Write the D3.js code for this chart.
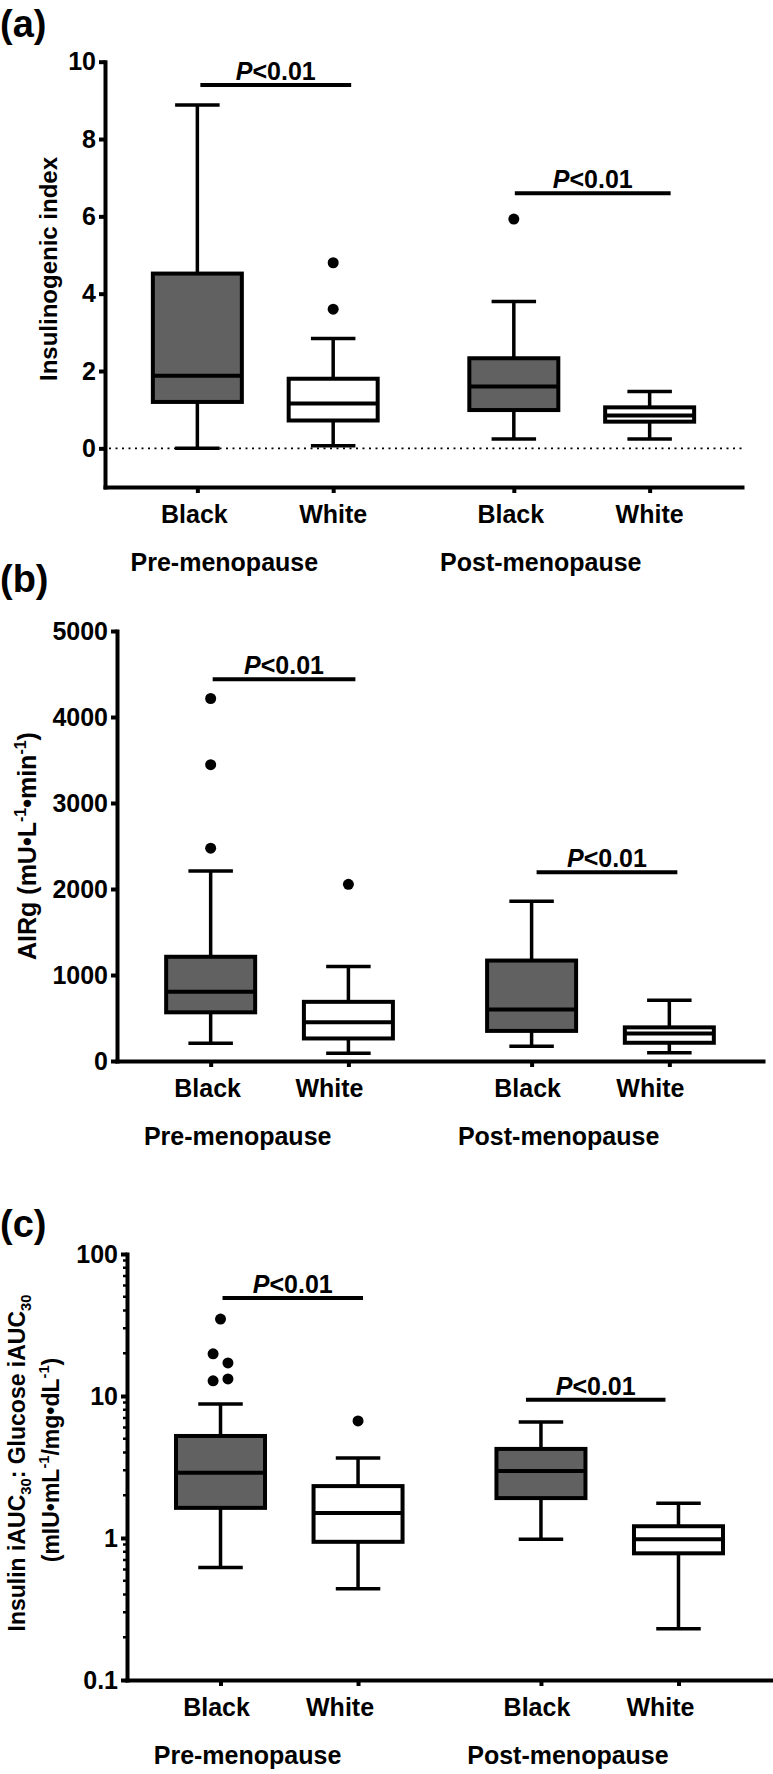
<!DOCTYPE html>
<html>
<head>
<meta charset="utf-8">
<script src="https://cdn.jsdelivr.net/npm/d3@7"></script>
<style>
body { margin: 0; background: #fff; }
svg text { font-family: "Liberation Sans", Arial, Helvetica, sans-serif; font-weight: bold; fill: #000; }
</style>
</head>
<body>
<svg width="773" height="1774"></svg>
<script>
const groups = ['Pre-menopause', 'Post-menopause'];
const categories = ['Black', 'White', 'Black', 'White'];
const fills = ['#616161', '#ffffff', '#616161', '#ffffff'];
const pLabel = '<0.01';

// each box: [min, q1, median, q3, max]
const insulinogenicBox = [
  [0.00, 1.20, 1.88, 4.52, 8.88],
  [0.07, 0.72, 1.16, 1.80, 2.84],
  [0.24, 0.99, 1.60, 2.33, 3.80],
  [0.24, 0.69, 0.85, 1.06, 1.47]
];
const insulinogenicOutliers = [[], [3.6, 4.8], [5.93], []];
const insulinogenicSig = [9.4, 6.6];
const insulinogenicTicks = [0, 2, 4, 6, 8, 10];

const airgBox = [
  [205, 566, 805, 1212, 2208],
  [90, 262, 452, 688, 1098],
  [172, 350, 600, 1168, 1858],
  [95, 212, 320, 391, 706]
];
const airgOutliers = [[2475, 3445, 4215], [2055], [], []];
const airgSig = [4440, 2195];
const airgTicks = [0, 1000, 2000, 3000, 4000, 5000];

const ratioBox = [
  [0.62, 1.63, 2.88, 5.23, 8.8],
  [0.44, 0.94, 1.50, 2.32, 3.66],
  [0.98, 1.91, 2.96, 4.24, 6.56],
  [0.23, 0.78, 0.98, 1.21, 1.76]
];
const ratioOutliers = [[34.8, 19.8, 17.1, 12.8, 13.2], [6.67], [], []];
const ratioSig = [49, 9.4];
const ratioTicks = [0.1, 1, 10, 100];

// category slots along x (gap between the two groups is wider)
const slots = [0, 1, 2.33, 3.33];

const svg = d3.select('svg');

const panels = [
  { tag: '(a)', tagY: 37, axisX: 105, xEnd: 742, yRange: [487, 61.7],
    y: d3.scaleLinear().domain([-1, 10]), ticks: insulinogenicTicks,
    box: insulinogenicBox, out: insulinogenicOutliers, sig: insulinogenicSig,
    sigDx: [[3, 18], [1, 21]], labelDx: [-3, 0, -3, 0], zeroLine: true },
  { tag: '(b)', tagY: 592, axisX: 117, xEnd: 763, yRange: [1061, 631],
    y: d3.scaleLinear().domain([0, 5000]), ticks: airgTicks,
    box: airgBox, out: airgOutliers, sig: airgSig,
    sigDx: [[2, 7], [5, 8]], labelDx: [-3, -19, -4, -19] },
  { tag: '(c)', tagY: 1237, axisX: 127, xEnd: 772, yRange: [1680, 1254],
    y: d3.scaleLog().domain([0.1, 100]), ticks: ratioTicks, log: true,
    box: ratioBox, out: ratioOutliers, sig: ratioSig,
    sigDx: [[2, 5], [-15, -13]], labelDx: [-4, -18, -4, -18] }
];

function dodge(vals, y, r) {
  const res = [];
  let cluster = [];
  const flush = () => {
    cluster.forEach((v, i) => res.push({ v, dx: (i - (cluster.length - 1) / 2) * r * 2.7 }));
    cluster = [];
  };
  vals.forEach(v => {
    if (cluster.length && Math.abs(y(v) - y(cluster[cluster.length - 1])) >= 2 * r + 2) flush();
    cluster.push(v);
  });
  flush();
  return res;
}

function drawPanel(p) {
  const g = svg.append('g');
  const y = p.y.range(p.yRange);
  const x = d3.scaleLinear().domain([-0.68, 4.01]).range([p.axisX, p.xEnd]);
  const bw = 89;
  const y0 = p.yRange[0];

  g.append('text').attr('x', 0).attr('y', p.tagY).attr('font-size', 38).text(p.tag);

  if (p.zeroLine) {
    g.append('line')
      .attr('x1', p.axisX + 4).attr('x2', p.xEnd).attr('y1', y(0)).attr('y2', y(0))
      .attr('stroke', '#000').attr('stroke-width', 1.8).attr('stroke-dasharray', '2,4.5');
  }

  const boxes = g.selectAll('.box').data(p.box).join('g').attr('class', 'box');
  boxes.each(function(d, i) {
    const b = d3.select(this);
    const cx = x(slots[i]);
    [[d[3], d[4]], [d[1], d[0]]].forEach(([a, e]) => {
      b.append('line').attr('x1', cx).attr('x2', cx).attr('y1', y(a)).attr('y2', y(e))
        .attr('stroke', '#000').attr('stroke-width', 3.5);
      b.append('line').attr('x1', cx - bw / 4).attr('x2', cx + bw / 4).attr('y1', y(e)).attr('y2', y(e))
        .attr('stroke', '#000').attr('stroke-width', 3.5);
    });
    b.append('rect').attr('x', cx - bw / 2).attr('width', bw)
      .attr('y', y(d[3])).attr('height', y(d[1]) - y(d[3]))
      .attr('fill', fills[i]).attr('stroke', '#000').attr('stroke-width', 4);
    b.append('line').attr('x1', cx - bw / 2).attr('x2', cx + bw / 2).attr('y1', y(d[2])).attr('y2', y(d[2]))
      .attr('stroke', '#000').attr('stroke-width', 4);
    b.selectAll('circle').data(dodge(p.out[i], y, 5.5)).join('circle')
      .attr('cx', o => cx + o.dx).attr('cy', o => y(o.v)).attr('r', 5.5).attr('fill', '#000');
  });

  // y axis
  const yAxis = d3.axisLeft(y).tickValues(p.ticks).tickSize(6).tickPadding(3).tickSizeOuter(0)
    .tickFormat(p.log ? d3.format('~g') : d3.format('d'));
  const ya = g.append('g').attr('transform', `translate(${p.axisX},0)`).call(yAxis)
    .attr('font-family', null).attr('font-size', null);
  ya.select('.domain').attr('stroke-width', 4).attr('stroke-linecap', 'square');
  ya.selectAll('.tick line').attr('stroke-width', 4);
  ya.selectAll('.tick text').attr('font-size', 25).attr('fill', '#000');

  if (p.log) {
    const minor = [];
    [0.1, 1, 10].forEach(dec => d3.range(2, 10).forEach(k => minor.push(dec * k)));
    g.selectAll('.minor').data(minor).join('line').attr('class', 'minor')
      .attr('x1', p.axisX - 4).attr('x2', p.axisX).attr('y1', d => y(d)).attr('y2', d => y(d))
      .attr('stroke', '#000').attr('stroke-width', 2.5);
  }

  // x axis
  const xAxis = d3.axisBottom(x).tickValues(slots).tickSize(6).tickSizeOuter(0).tickFormat('');
  const xa = g.append('g').attr('transform', `translate(0,${y0})`).call(xAxis);
  xa.select('.domain').attr('stroke-width', 4).attr('stroke-linecap', 'square');
  xa.selectAll('.tick line').attr('stroke-width', 4);

  g.selectAll('.cat').data(categories).join('text').attr('class', 'cat')
    .attr('x', (d, i) => x(slots[i]) + p.labelDx[i]).attr('y', y0 + 36)
    .attr('text-anchor', 'middle').attr('font-size', 25).text(d => d);

  g.selectAll('.grp').data(groups).join('text').attr('class', 'grp')
    .attr('x', (d, i) => x(slots[i * 2]) + 27).attr('y', y0 + 84)
    .attr('text-anchor', 'middle').attr('font-size', 25).text(d => d);

  // significance bars
  p.sig.forEach((v, k) => {
    const x1 = x(slots[k * 2]) + p.sigDx[k][0];
    const x2 = x(slots[k * 2 + 1]) + p.sigDx[k][1];
    g.append('line').attr('x1', x1).attr('x2', x2).attr('y1', y(v)).attr('y2', y(v))
      .attr('stroke', '#000').attr('stroke-width', 4);
    const t = g.append('text').attr('x', (x1 + x2) / 2).attr('y', y(v) - 5)
      .attr('text-anchor', 'middle').attr('font-size', 25);
    t.append('tspan').attr('font-style', 'italic').text('P');
    t.append('tspan').text(pLabel);
  });
  return y;
}

panels.forEach(drawPanel);

// axis titles
function vtitle(xb, cy, size, parts) {
  const t = svg.append('text').attr('transform', `translate(${xb},${cy}) rotate(-90)`)
    .attr('text-anchor', 'middle').attr('font-size', size);
  let shift = 0;
  parts.forEach(([s, kind]) => {
    const want = kind === 'sup' ? -0.42 * size : kind === 'sub' ? 0.25 * size : 0;
    const ts = t.append('tspan').attr('dy', want - shift).text(s);
    if (kind) ts.attr('font-size', size * 0.64);
    shift = want;
  });
}

vtitle(57, 269, 24, [['Insulinogenic index']]);
vtitle(36, 846, 25, [['AIRg (mU\u2022L'], ['-1', 'sup'], ['\u2022min'], ['-1', 'sup'], [')']]);
vtitle(25, 1463, 23, [['Insulin iAUC'], ['30', 'sub'], [': Glucose iAUC'], ['30', 'sub']]);
vtitle(59, 1460, 23, [['(mIU\u2022mL'], ['-1', 'sup'], ['/mg\u2022dL'], ['-1', 'sup'], [')']]);
</script>
</body>
</html>
